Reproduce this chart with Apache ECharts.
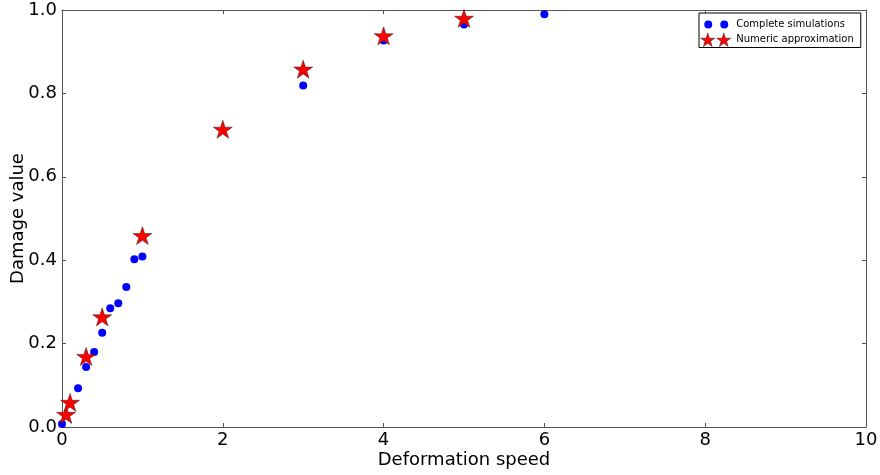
<!DOCTYPE html>
<html>
<head>
<meta charset="utf-8">
<script src="https://cdn.jsdelivr.net/npm/echarts@6/dist/echarts.min.js"></script>
<style>html,body{margin:0;padding:0;background:#fff;}#c{width:880px;height:475px;}</style>
</head>
<body>
<div id="c"></div>
<script>
var simX = [0, 0.2, 0.3, 0.4, 0.5, 0.6, 0.7, 0.8, 0.9, 1.0, 3, 4, 5, 6];
var simY = [0.007, 0.093, 0.144, 0.180, 0.226, 0.285, 0.297, 0.336, 0.402, 0.409, 0.819, 0.927, 0.965, 0.990];
var apxX = [0.05, 0.1, 0.3, 0.5, 1, 2, 3, 4, 5];
var apxY = [0.030, 0.059, 0.169, 0.264, 0.459, 0.714, 0.858, 0.938, 0.980];
var seriesNames = ['Complete simulations', 'Numeric approximation'];
var xLabel = 'Deformation speed';
var yLabel = 'Damage value';

function pairs(xs, ys) { return xs.map(function (x, i) { return [x, ys[i]]; }); }

var STAR = 'M7.5,0 L9.18,5.19 L14.63,5.18 L10.22,8.38 L11.91,13.57 L7.5,10.36 L3.09,13.57 L4.78,8.38 L0.37,5.18 L5.82,5.19 Z';
var starSym = 'path://' + STAR;
function starAt(dx) {
  return STAR.replace(/(-?\d+\.?\d*),(-?\d+\.?\d*)/g, function (m, a, b) {
    return (parseFloat(a) + dx).toFixed(2) + ',' + (parseFloat(b) + 0.7).toFixed(2);
  });
}
var corners = ' M0,0 L0,0 Z M31,15 L31,15 Z';
var legendCircles = 'path://M4,7.5 A4,4 0 1,0 12,7.5 A4,4 0 1,0 4,7.5 Z M20,7.5 A4,4 0 1,0 28,7.5 A4,4 0 1,0 20,7.5 Z' + corners;
var legendStars = 'path://' + starAt(0) + ' ' + starAt(16) + corners;

var FONT = 'DejaVu Sans';
var frame = { onZero: false, lineStyle: { color: '#555', width: 1 } };
var tick = { inside: true, length: 4, lineStyle: { color: '#555' } };

var chart = echarts.init(document.getElementById('c'), null, { renderer: 'canvas' });
chart.setOption({
  animation: false,
  backgroundColor: '#fff',
  textStyle: { fontFamily: FONT },
  grid: { left: 62, right: 14, top: 10, bottom: 48, containLabel: false, outerBoundsMode: 'none' },
  legend: {
    orient: 'vertical',
    left: 699, top: 13,
    padding: [4, 7, 0, 1],
    itemGap: 0,
    itemWidth: 31, itemHeight: 15,
    borderColor: '#000', borderWidth: 1, borderRadius: 0,
    backgroundColor: '#fff',
    textStyle: { fontFamily: FONT, fontSize: 10, color: '#000' },
    data: [
      { name: seriesNames[0], icon: legendCircles, itemStyle: { color: '#0000ff', borderWidth: 0 } },
      { name: seriesNames[1], icon: legendStars, itemStyle: { color: '#ff0000', borderColor: '#222', borderWidth: 0.5 } }
    ]
  },
  xAxis: [{
    type: 'value', min: 0, max: 10, interval: 2,
    name: xLabel, nameLocation: 'middle', nameGap: 24, nameMoveOverlap: false,
    nameTextStyle: { fontFamily: FONT, fontSize: 18, color: '#000' },
    axisLine: frame, splitLine: { show: false }, axisTick: tick,
    axisLabel: { fontFamily: FONT, fontSize: 18, color: '#000', margin: 4 }
  }, {
    type: 'value', min: 0, max: 10, interval: 2, position: 'top',
    axisLine: frame, splitLine: { show: false }, axisTick: tick,
    axisLabel: { show: false }
  }],
  yAxis: [{
    type: 'value', min: 0, max: 1.0, interval: 0.2,
    name: yLabel, nameLocation: 'middle', nameGap: 35, nameMoveOverlap: false,
    nameTextStyle: { fontFamily: FONT, fontSize: 18, color: '#000' },
    axisLine: frame, splitLine: { show: false }, axisTick: tick,
    axisLabel: { fontFamily: FONT, fontSize: 18, color: '#000', margin: 5,
      formatter: function (v) { return v.toFixed(1); } }
  }, {
    type: 'value', min: 0, max: 1.0, interval: 0.2, position: 'right',
    axisLine: frame, splitLine: { show: false }, axisTick: tick,
    axisLabel: { show: false }
  }],
  series: [{
    name: seriesNames[0], type: 'scatter', clip: true,
    symbol: 'circle', symbolSize: 8,
    itemStyle: { color: '#0000ff', opacity: 1 },
    data: pairs(simX, simY)
  }, {
    name: seriesNames[1], type: 'scatter', clip: true,
    symbol: starSym, symbolSize: [19, 18],
    itemStyle: { color: '#ff0000', borderColor: '#222', borderWidth: 0.5, opacity: 1 },
    data: pairs(apxX, apxY)
  }]
});
</script>
</body>
</html>
